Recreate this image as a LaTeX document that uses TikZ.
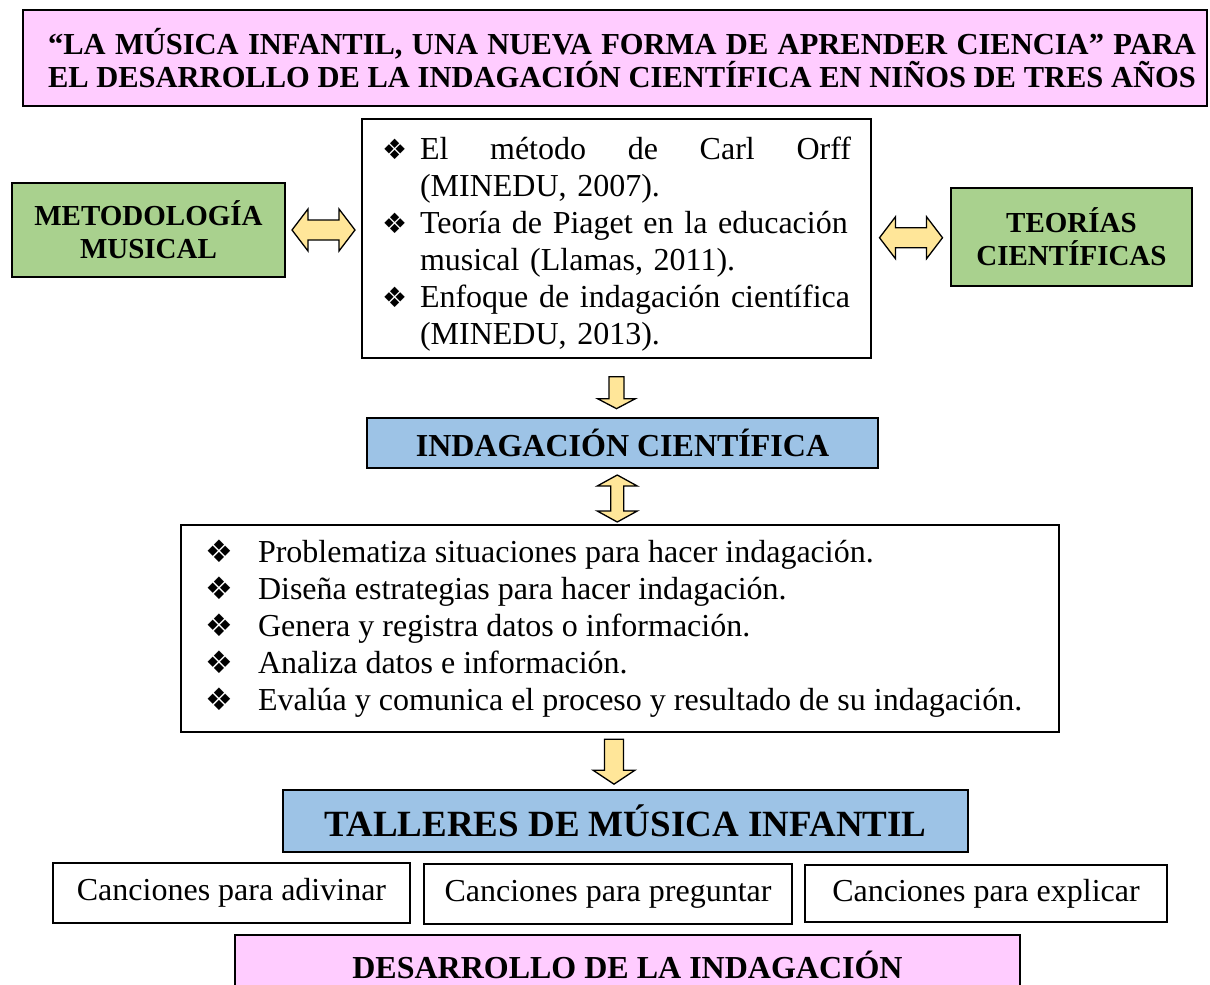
\documentclass[tikz,border=0pt]{standalone}
\usepackage{fontspec}
\setmainfont{Liberation Serif}
\newfontfamily\dejavu{DejaVu Sans}
\usetikzlibrary{calc}
\definecolor{rosa}{HTML}{FFCCFF}
\definecolor{verde}{HTML}{A9D18E}
\definecolor{celeste}{HTML}{9DC3E6}
\definecolor{crema}{HTML}{FFE699}
\newcommand{\cuerpo}{\fontsize{32}{37}\selectfont}
\newcommand{\negrita}{\bfseries\fontsize{32}{37}\selectfont}
\newcommand{\lateral}{\bfseries\fontsize{29}{33}\selectfont}
\newcommand{\titulo}{\bfseries\fontsize{30.5}{33}\selectfont}
\newcommand{\grande}{\bfseries\fontsize{37}{40}\selectfont}
\newcommand{\vineta}{{\dejavu\fontsize{28}{28}\selectfont\raisebox{0pt}{❖}}}
\newcommand{\vinetag}{{\dejavu\fontsize{31}{31}\selectfont\raisebox{0pt}{❖}}}
\tikzset{
  caja/.style = {draw, line width=1.3pt, inner sep=0pt, align=center},
  bloque/.style = {draw, line width=1.3pt, fill=crema, line join=miter},
  pics/dflecha/.style n args = {4}{code = {
    \draw[bloque] (-#1/2,0) -- (-#1/2+#4,#2/2) -- (-#1/2+#4,#3/2) -- (#1/2-#4,#3/2)
      -- (#1/2-#4,#2/2) -- (#1/2,0) -- (#1/2-#4,-#2/2) -- (#1/2-#4,-#3/2)
      -- (-#1/2+#4,-#3/2) -- (-#1/2+#4,-#2/2) -- cycle;
  }},
  pics/flecha/.style n args = {4}{code = {
    \draw[bloque] (-#1/2,-#3/2) -- (#1/2-#4,-#3/2) -- (#1/2-#4,-#2/2) -- (#1/2,0)
      -- (#1/2-#4,#2/2) -- (#1/2-#4,#3/2) -- (-#1/2,#3/2) -- cycle;
  }}
}
\begin{document}
\begin{tikzpicture}[x=1pt,y=-1pt]
\useasboundingbox (0,0) rectangle (1210,985);

\node[caja, fill=rosa, line width=1.8pt, minimum width=1184, minimum height=96, font=\titulo] (titulo) at (615,58)
  {\makebox[1162pt][r]{\makebox[1148pt][s]{“LA MÚSICA INFANTIL, UNA NUEVA FORMA DE APRENDER CIENCIA” PARA}}\\
   \makebox[1162pt][r]{\makebox[1148pt][s]{EL DESARROLLO DE LA INDAGACIÓN CIENTÍFICA EN NIÑOS DE TRES AÑOS}}};

\node[caja, fill=verde, minimum width=273, minimum height=94, font=\lateral] (metodo) at (148.5,230) {METODOLOGÍA\\MUSICAL};
\node[caja, minimum width=509, minimum height=239, text width=469, align=left, font=\cuerpo] (fuentes) at (616.5,238.5)
  {\rule{0pt}{33pt}\makebox[38pt][l]{\vineta}\makebox[431pt]{El\hfill método\hfill de\hfill Carl\hfill Orff}\\
   \hspace*{38pt}(MINEDU, 2007).\\
   \makebox[38pt][l]{\vineta}Teoría de Piaget en la educación\\
   \hspace*{38pt}musical (Llamas, 2011).\\
   \makebox[38pt][l]{\vineta}Enfoque de indagación científica\\
   \hspace*{38pt}(MINEDU, 2013).};
\node[caja, fill=verde, minimum width=241, minimum height=98, font=\lateral] (teorias) at (1071.5,237) {TEORÍAS\\CIENTÍFICAS};

\node[caja, fill=celeste, minimum width=511, minimum height=50, font=\negrita] (indag) at (622.5,443) {INDAGACIÓN CIENTÍFICA};

\node[caja, minimum width=878, minimum height=207, text width=830, align=left, font=\cuerpo] (lista) at (620,628.5)
  {\spaceskip=0.25em plus 0.05em\relax
   \mbox{\makebox[53pt][l]{\vinetag}Problematiza situaciones para hacer indagación.}\\
   \mbox{\makebox[53pt][l]{\vinetag}Diseña estrategias para hacer indagación.}\\
   \mbox{\makebox[53pt][l]{\vinetag}Genera y registra datos o información.}\\
   \mbox{\makebox[53pt][l]{\vinetag}Analiza datos e información.}\\
   \mbox{\makebox[53pt][l]{\vinetag}Evalúa y comunica el proceso y resultado de su indagación.}};

\node[caja, fill=celeste, minimum width=685, minimum height=62, font=\grande] (talleres) at (625.5,821) {TALLERES DE MÚSICA INFANTIL};

\node[caja, minimum width=357, minimum height=60, font=\cuerpo] (adivinar) at (231.5,893) {Canciones para adivinar};
\node[caja, minimum width=368, minimum height=60, font=\cuerpo] (preguntar) at (608,894) {Canciones para preguntar};
\node[caja, minimum width=362, minimum height=57, font=\cuerpo] (explicar) at (986,893.5) {Canciones para explicar};

\node[caja, fill=rosa, minimum width=785, minimum height=60, font=\negrita] (desarrollo) at (627.5,965) {DESARROLLO DE LA INDAGACIÓN};

\pic at ($(metodo.east)!0.5!(fuentes.west|-metodo.east)$) {dflecha={63}{42}{20}{16}};
\pic at ($(fuentes.east)!0.5!(teorias.west)$) {dflecha={63}{42}{20}{16}};
\pic[rotate=-90] at ($(fuentes.south)+(0,34)$) {flecha={32}{38}{15}{10}};
\pic[rotate=90] at ($(indag.south)!0.5!(lista.north)+(-4,2)$) {dflecha={47}{40}{13}{11}};
\pic[rotate=-90] at ($(lista.south)+(-6,29)$) {flecha={45}{42}{19}{14}};
\end{tikzpicture}
\end{document}
